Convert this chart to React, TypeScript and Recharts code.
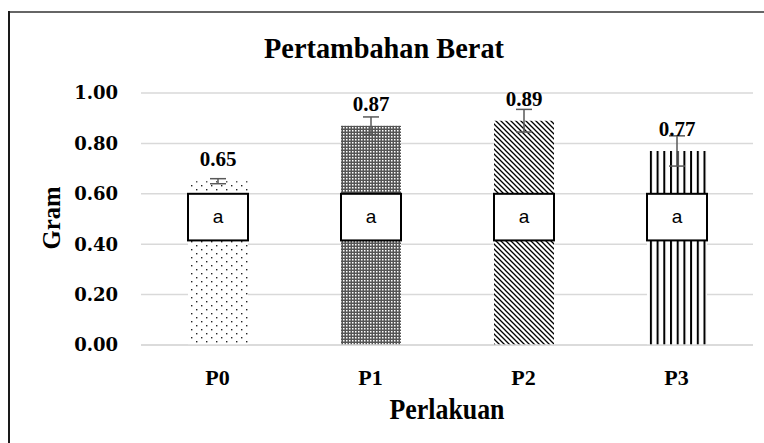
import { useLayoutEffect } from 'react'
import {
  BarChart,
  Bar,
  XAxis,
  YAxis,
  CartesianGrid,
  Cell,
  ErrorBar,
  LabelList,
  Label
} from 'recharts'

const categories = ['P0', 'P1', 'P2', 'P3']
const weightGain = [0.65, 0.87, 0.89, 0.77]
const errors = [0.01, 0.035, 0.045, 0.06]
const letters = ['a', 'a', 'a', 'a']
const yTicks = [0, 0.2, 0.4, 0.6, 0.8, 1.0]
// value range covered by the significance-letter box
const letterBoxRange = [0.415, 0.6]
const patternIds = ['patDots', 'patMesh', 'patDiag', 'patVert']

const data = categories.map((name, i) => ({
  name,
  value: weightGain[i],
  err: errors[i]
}))

const serif = '"Liberation Serif", "Times New Roman", serif'

const LetterBox = (props: any) => {
  const { x, y, width, height, value, index } = props
  const bottom = y + height
  const perUnit = height / value
  const top = bottom - letterBoxRange[1] * perUnit
  const low = bottom - letterBoxRange[0] * perUnit
  return (
    <g>
      <rect
        x={x}
        y={top}
        width={width}
        height={low - top}
        fill="#fff"
        stroke="#000"
        strokeWidth={2}
      />
      <text
        x={x + width / 2}
        y={(top + low) / 2 + 6}
        textAnchor="middle"
        fontFamily='"Liberation Sans", Arial, sans-serif'
        fontSize={19}
        fill="#000"
      >
        {letters[index]}
      </text>
    </g>
  )
}

const AxisTitle = (props: any) => {
  const { text, x, y, angle, size, len } = props
  return (
    <text
      x={x}
      y={y}
      textAnchor="middle"
      dominantBaseline="central"
      transform={angle ? `rotate(${angle} ${x} ${y})` : undefined}
      fontFamily={serif}
      fontWeight="bold"
      fontSize={size}
      textLength={len}
      lengthAdjust="spacingAndGlyphs"
      fill="#000"
    >
      {text}
    </text>
  )
}

export default function App() {
  useLayoutEffect(() => {
    document.body.style.margin = '0'
    document.documentElement.style.overflow = 'hidden'
  }, [])

  return (
    <div
      style={{
        position: 'relative',
        width: 764,
        height: 443,
        overflow: 'hidden',
        background: '#fff'
      }}
    >
      <div style={{ position: 'absolute', left: 0, top: 0 }}>
        <BarChart
          width={764}
          height={443}
          data={data}
          margin={{ top: 93, right: 11, bottom: 0, left: 0 }}
          barSize={60}
        >
          <defs>
            <pattern id="patDots" width="10" height="8" patternUnits="userSpaceOnUse">
              <rect width="10" height="8" fill="#fff" />
              <rect x="1" y="1" width="1.4" height="1.4" fill="#222" />
              <rect x="6" y="5" width="1.4" height="1.4" fill="#222" />
            </pattern>
            <pattern id="patMesh" width="3" height="3" patternUnits="userSpaceOnUse">
              <rect width="3" height="3" fill="#555" />
              <rect x="1" y="1" width="1.5" height="1.5" fill="#fff" />
            </pattern>
            <pattern id="patDiag" width="5" height="5" patternUnits="userSpaceOnUse">
              <rect width="5" height="5" fill="#fff" />
              <path d="M-1,-1 L6,6 M-1,4 L1,6 M4,-1 L6,1" stroke="#000" strokeWidth="1.3" />
            </pattern>
            <pattern id="patVert" width="6.7" height="10" patternUnits="userSpaceOnUse">
              <rect width="6.7" height="10" fill="#fff" />
              <rect x="0" y="0" width="2" height="10" fill="#000" />
            </pattern>
          </defs>
          <CartesianGrid vertical={false} stroke="#d9d9d9" strokeWidth={1.5} />
          <XAxis
            dataKey="name"
            height={98}
            axisLine={{ stroke: '#d9d9d9', strokeWidth: 1.5 }}
            tickLine={false}
            tickSize={0}
            tickMargin={24}
            tick={{ fill: '#000', fontSize: 22, fontWeight: 'bold', fontFamily: serif }}
          >
            <Label
              content={() => (
                <AxisTitle text="Perlakuan" x={447} y={409} size={29} len={115} />
              )}
            />
          </XAxis>
          <YAxis
            width={141}
            domain={[0, 1]}
            ticks={yTicks}
            interval={0}
            axisLine={false}
            tickLine={false}
            tickSize={0}
            tickMargin={23}
            tickFormatter={(v: number) => v.toFixed(2)}
            tick={{
              fill: '#000',
              fontSize: 18,
              fontWeight: 'bold',
              fontFamily: '"DejaVu Serif", serif'
            }}
          >
            <Label
              content={() => (
                <AxisTitle text="Gram" x={51} y={218} angle={-90} size={26} len={63} />
              )}
            />
          </YAxis>
          <Bar dataKey="value" isAnimationActive={false}>
            {data.map((entry, i) => (
              <Cell key={entry.name} fill={`url(#${patternIds[i]})`} />
            ))}
            <ErrorBar dataKey="err" width={8} stroke="#595959" strokeWidth={1.5} direction="y" />
            <LabelList dataKey="value" content={LetterBox} />
            <LabelList
              dataKey="value"
              position="top"
              offset={15}
              formatter={(v: any) => Number(v).toFixed(2)}
              fill="#000"
              fontSize={21}
              fontWeight="bold"
              fontFamily={serif}
            />
          </Bar>
        </BarChart>
      </div>
      <svg
        width={764}
        height={443}
        style={{ position: 'absolute', left: 0, top: 0, pointerEvents: 'none' }}
      >
        {/* frame of the pasted chart: only its left and top edges are in view */}
        <line x1={8} y1={12} x2={764} y2={12} stroke="#666" strokeWidth={2} />
        <line x1={9} y1={11} x2={9} y2={443} stroke="#1a1a1a" strokeWidth={2} />
        <AxisTitle text="Pertambahan Berat" x={384} y={47} size={30} len={240} />
      </svg>
    </div>
  )
}
